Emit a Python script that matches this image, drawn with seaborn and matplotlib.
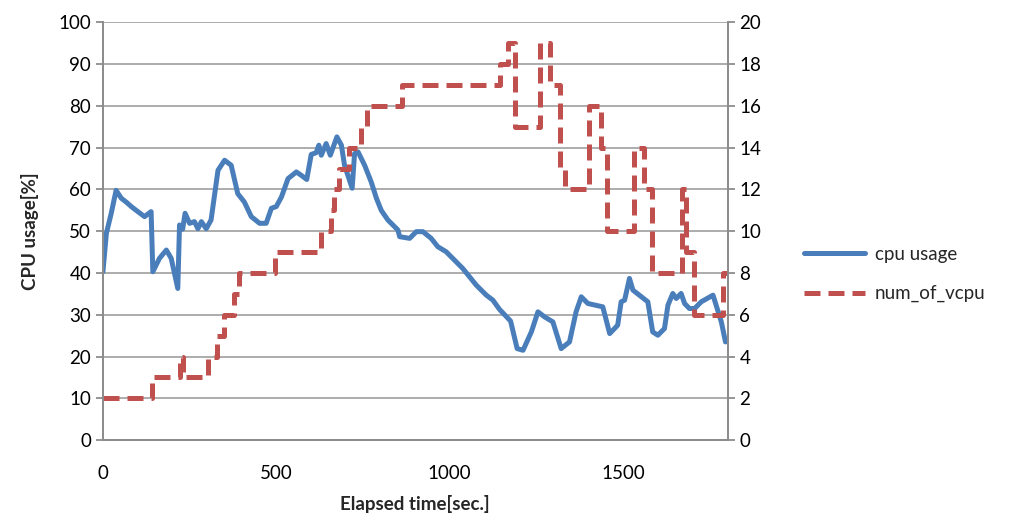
import numpy as np
import pandas as pd
import matplotlib
matplotlib.use("Agg")
import matplotlib.pyplot as plt
import seaborn as sns

######## data ########
cpu_time = [0, 10, 24, 38, 53, 67, 82, 96, 120, 139, 144, 163, 183, 197, 216, 221, 230, 237,
            250, 264, 274, 284, 298, 312, 332, 351, 370, 389, 408, 428, 452, 471, 486, 500,
            515, 534, 558, 572, 588, 601, 615, 623, 630, 644, 656, 675, 688, 697, 719, 726,
            736, 755, 774, 789, 803, 822, 851, 856, 885, 904, 923, 947, 966, 990, 1038, 1077,
            1106, 1125, 1144, 1176, 1195, 1212, 1236, 1255, 1274, 1298, 1322, 1346, 1365,
            1380, 1399, 1442, 1462, 1485, 1495, 1505, 1519, 1529, 1572, 1586, 1601, 1620,
            1630, 1644, 1654, 1668, 1678, 1692, 1707, 1726, 1760, 1784, 1796]
cpu_usage = [40.3, 49.5, 54.3, 59.8, 57.9, 57, 55.9, 55, 53.5, 54.7, 40.3, 43.5, 45.5, 43.5,
             36.3, 51.5, 50.5, 54.3, 51.9, 52.3, 50.6, 52.3, 50.6, 52.7, 64.6, 67, 65.8, 59,
             57, 53.5, 51.9, 51.9, 55.5, 55.9, 58.2, 62.6, 64.2, 63.4, 62.4, 68.4, 68.8, 70.6,
             68.2, 71, 68.2, 72.6, 70.6, 65.8, 60.3, 68.6, 69, 65.8, 61.8, 57.9, 55, 52.7,
             50.3, 48.7, 48.3, 49.9, 49.9, 48.3, 46.3, 45.1, 41.1, 37.1, 34.7, 33.5, 31.3,
             28.5, 21.9, 21.5, 25.9, 30.7, 29.5, 28.3, 21.9, 23.5, 30.7, 34.3, 32.7, 31.9,
             25.5, 27.5, 33.1, 33.5, 38.7, 35.9, 33.1, 25.9, 25.1, 26.7, 32.3, 35.1, 33.9,
             35.1, 32.7, 31.5, 31.5, 33.1, 34.7, 28.3, 23.5]

vcpu_time = [0, 143, 223, 230, 302, 328, 348, 378, 392, 495, 628, 657, 668, 682, 710, 745,
             762, 863, 1146, 1168, 1190, 1262, 1290, 1320, 1334, 1402, 1436, 1455, 1531,
             1560, 1585, 1670, 1681, 1705, 1790, 1800]
num_of_vcpu = [2, 3, 4, 3, 4, 5, 6, 7, 8, 9, 10, 11, 12, 13, 14, 15, 16, 17, 18, 19, 15, 19,
               17, 13, 12, 16, 14, 10, 14, 12, 8, 12, 9, 6, 8, 8]

x_ticks = [0, 500, 1000, 1500]
left_ticks = list(range(0, 101, 10))
right_ticks = list(range(0, 21, 2))

cpu_df = pd.DataFrame({"t": cpu_time, "cpu": cpu_usage})
vcpu_df = pd.DataFrame({"t": vcpu_time, "vcpu": num_of_vcpu})

sns.set_style("white")
plt.rcParams['font.family'] = ['Lato', 'DejaVu Sans']

blue = '#4a7ebb'
red = '#c0504d'
grey = '#8c8c8c'

fig = plt.figure(figsize=(10.19, 5.22), dpi=100)
ax = fig.add_axes([0.101, 0.157, 0.613, 0.800])
ax2 = ax.twinx()

sns.lineplot(data=cpu_df, x="t", y="cpu", ax=ax, color=blue, linewidth=3.6,
             label="cpu usage", legend=False)
sns.lineplot(data=vcpu_df, x="t", y="vcpu", ax=ax2, color=red, linewidth=3.6,
             drawstyle='steps-post', dashes=False, label="num_of_vcpu", legend=False)
ax2.lines[0].set_linestyle((0, (3.2, 1.6)))

ax.set_xlim(0, 1802)
ax.set_ylim(0, 100)
ax2.set_ylim(0, 20)
ax.set_xticks(x_ticks)
ax.set_yticks(left_ticks)
ax2.set_yticks(right_ticks)

ax.yaxis.grid(True, color='#a6a6a6', linewidth=1.3)
ax.set_axisbelow(True)
for a in (ax, ax2):
    for s in a.spines.values():
        s.set_color(grey)
        s.set_linewidth(1.3)
    a.spines['top'].set_visible(False)
    a.tick_params(colors=grey, labelcolor='black', labelsize=13.5, length=5, width=1.3,
                  direction='out')
ax.tick_params(axis='x', pad=13)

ax.set_xlabel('Elapsed time[sec.]', fontsize=13.5, fontweight='bold', labelpad=9)
ax.set_ylabel('CPU usage[%]', fontsize=13.5, fontweight='bold', labelpad=14)
ax2.set_ylabel('')

h1, l1 = ax.get_legend_handles_labels()
h2, l2 = ax2.get_legend_handles_labels()
fig.legend(h1 + h2, l1 + l2, loc='center left', bbox_to_anchor=(0.772, 0.475),
           frameon=False, fontsize=13.5, handlelength=3.3, handletextpad=0.5,
           labelspacing=1.2)

fig.savefig('out.png', dpi=100)
